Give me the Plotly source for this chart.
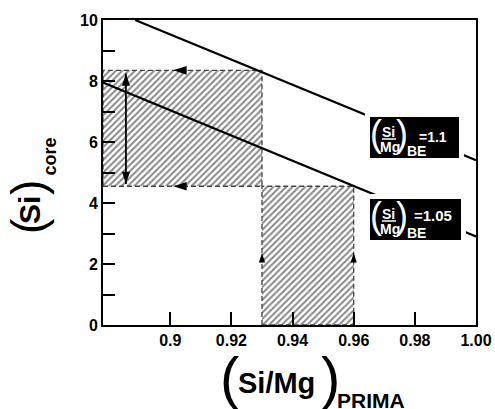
import plotly.graph_objects as go

# ---------------- data ----------------
x_axis_range = [0.878, 1.0]
y_axis_range = [0.0, 10.0]
x_tickvals = [0.9, 0.92, 0.94, 0.96, 0.98, 1.0]
x_ticktext = ["0.9", "0.92", "0.94", "0.96", "0.98", "1.00"]
y_tickvals = [0, 2, 4, 6, 8, 10]
y_minor_tickvals = [1, 3, 5, 7, 9]

si_mg_prima_range = [0.93, 0.96]      # (Si/Mg)PRIMA interval
si_core_range = [4.55, 8.35]          # resulting (Si)core interval

line_be_11_x = [0.8885, 1.0]          # (Si/Mg)BE = 1.1
line_be_11_y = [10.0, 5.4]
line_be_105_x = [0.878, 1.0]          # (Si/Mg)BE = 1.05
line_be_105_y = [7.95, 2.9]

left_arrow_x = [0.901, 0.901]
up_arrow_y = [2.36, 2.36]
double_arrow_x = [0.8855, 0.8855]
double_arrow_y = [4.62, 8.25]

be_values = ["=1.1", "=1.05"]

# ---------------- layout helpers ----------------
W, H = 495, 409
ML, MR, MT, MB = 103, 19, 20, 84
PW, PH = W - ML - MR, H - MT - MB
FONT = "Liberation Sans, Arial, sans-serif"


def px(xp):
    return (xp - ML) / PW


def py(yp):
    return (H - MB - yp) / PH


fig = go.Figure()

hatch = dict(shape="/", size=4.5, solidity=0.45, fgcolor="#111111", bgcolor="white")
border = dict(color="#444444", width=1.3, dash="5px,3px")

# hatched regions
xa0 = x_axis_range[0]
fig.add_trace(go.Scatter(
    x=[xa0, si_mg_prima_range[0], si_mg_prima_range[0], xa0, xa0],
    y=[si_core_range[0], si_core_range[0], si_core_range[1], si_core_range[1], si_core_range[0]],
    fill="toself", mode="lines", line=border, fillcolor="white", fillpattern=hatch,
    hoverinfo="skip", showlegend=False))
fig.add_trace(go.Scatter(
    x=[si_mg_prima_range[0], si_mg_prima_range[1], si_mg_prima_range[1], si_mg_prima_range[0], si_mg_prima_range[0]],
    y=[y_axis_range[0], y_axis_range[0], si_core_range[0], si_core_range[0], y_axis_range[0]],
    fill="toself", mode="lines", line=border, fillcolor="white", fillpattern=hatch,
    hoverinfo="skip", showlegend=False))

# BE lines
fig.add_trace(go.Scatter(x=line_be_11_x, y=line_be_11_y, mode="lines",
                         line=dict(color="black", width=2.2), showlegend=False, hoverinfo="skip"))
fig.add_trace(go.Scatter(x=line_be_105_x, y=line_be_105_y, mode="lines",
                         line=dict(color="black", width=2.2), showlegend=False, hoverinfo="skip"))

# double-headed arrow
fig.add_trace(go.Scatter(x=double_arrow_x, y=double_arrow_y, mode="lines",
                         line=dict(color="black", width=1.8), showlegend=False, hoverinfo="skip"))
fig.add_trace(go.Scatter(x=double_arrow_x, y=double_arrow_y, mode="markers",
                         marker=dict(symbol="arrow", size=13, color="black", angle=[180, 0]),
                         showlegend=False, hoverinfo="skip", cliponaxis=False))
# left arrows on the dashed lines
fig.add_trace(go.Scatter(x=left_arrow_x, y=si_core_range, mode="markers",
                         marker=dict(symbol="arrow", size=14, color="black", angle=-90),
                         showlegend=False, hoverinfo="skip"))
# up arrows on the vertical dashed lines
fig.add_trace(go.Scatter(x=si_mg_prima_range, y=up_arrow_y, mode="markers",
                         marker=dict(symbol="arrow", size=10, color="black", angle=0),
                         showlegend=False, hoverinfo="skip"))

shapes = []
annotations = []


def label_box(x0, x1, y0, y1):
    pad = 5
    shapes.append(dict(type="rect", xref="paper", yref="paper", layer="above",
                       x0=px(x0 - pad), x1=px(x1 + pad), y0=py(y1 + pad), y1=py(y0 - pad),
                       fillcolor="white", line=dict(width=0)))
    shapes.append(dict(type="rect", xref="paper", yref="paper", layer="above",
                       x0=px(x0), x1=px(x1), y0=py(y1), y1=py(y0),
                       fillcolor="black", line=dict(width=0)))


def txt(text, xp, yp, size, weight="bold", color="black", angle=0):
    annotations.append(dict(text=text, xref="paper", yref="paper", x=px(xp), y=py(yp),
                            xanchor="center", yanchor="middle", showarrow=False,
                            textangle=angle,
                            font=dict(family=FONT, size=size, color=color, weight=weight)))


def be_label(top, right, eq_text, eq_x, eq_y, eq_size):
    label_box(370, right, top, top + 41)
    txt("(", 376, top + 16.8, 36, weight="normal", color="white")
    txt(")", 402, top + 16.8, 36, weight="normal", color="white")
    txt("Si", 388, top + 15, 14, color="white")
    txt("Mg", 389.5, top + 30, 14, color="white")
    shapes.append(dict(type="line", xref="paper", yref="paper", layer="above",
                       x0=px(382), x1=px(396), y0=py(top + 22), y1=py(top + 22),
                       line=dict(color="white", width=1.5)))
    txt("BE", 416.5, top + 34, 14, color="white")
    txt(eq_text, eq_x, eq_y, eq_size, color="white")


be_label(117, 459, be_values[0], 433, 137, 14)
be_label(199, 461, be_values[1], 432.5, 215, 15)

# y-axis title  (Si)core
txt("(", 28, 226, 46, weight="normal", angle=-90)
txt("Si", 29, 210, 30, angle=-90)
txt(")", 28, 188, 46, weight="normal", angle=-90)
txt("core", 49.5, 156, 18, angle=-90)

# x-axis title  (Si/Mg)PRIMA
txt("(", 229, 377, 58, weight="normal")
txt("Si/Mg", 276.5, 382.8, 29)
txt(")", 330, 377, 58, weight="normal")
txt("PRIMA", 371, 400.6, 21)

tickfont = dict(family=FONT, size=16, color="black", weight="bold")
fig.update_layout(
    width=W, height=H,
    margin=dict(l=ML, r=MR, t=MT, b=MB, pad=0, autoexpand=False),
    paper_bgcolor="white", plot_bgcolor="white",
    showlegend=False,
    shapes=shapes, annotations=annotations,
    xaxis=dict(range=x_axis_range, tickvals=x_tickvals, ticktext=x_ticktext,
               ticks="inside", ticklen=13, tickwidth=1.5, tickcolor="black",
               showline=True, linecolor="black", linewidth=2, mirror=True,
               showgrid=False, zeroline=False, tickfont=tickfont, automargin=False),
    yaxis=dict(range=y_axis_range, tickvals=y_tickvals,
               ticks="inside", ticklen=12, tickwidth=1.5, tickcolor="black",
               minor=dict(tickvals=y_minor_tickvals, ticks="inside", ticklen=12,
                          tickwidth=1.5, tickcolor="black", showgrid=False),
               showline=True, linecolor="black", linewidth=2, mirror=True,
               showgrid=False, zeroline=False, tickfont=tickfont, automargin=False),
)

fig.write_html("out.html", config={"displayModeBar": False},
               post_script="document.body.style.margin='0';")
